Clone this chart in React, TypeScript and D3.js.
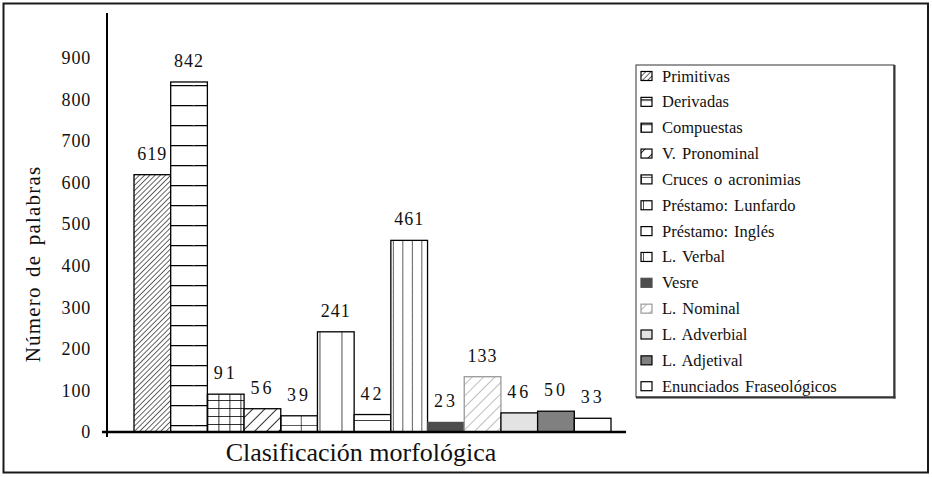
import React from "react";
import * as d3 from "d3";

const categories = [
  "Primitivas",
  "Derivadas",
  "Compuestas",
  "V. Pronominal",
  "Cruces o acronimias",
  "Préstamo: Lunfardo",
  "Préstamo: Inglés",
  "L. Verbal",
  "Vesre",
  "L. Nominal",
  "L. Adverbial",
  "L. Adjetival",
  "Enunciados Fraseológicos",
];
const values = [619, 842, 91, 56, 39, 241, 42, 461, 23, 133, 46, 50, 33];
const yTicks = [0, 100, 200, 300, 400, 500, 600, 700, 800, 900];
const yTitle = "Número de palabras";
const xTitle = "Clasificación morfológica";

const kinds = [
  "diagDense",
  "hLines",
  "grid",
  "diagSparse",
  "brick",
  "vLunf",
  "hIngles",
  "vVerbal",
  "solidDark",
  "diagGray",
  "solidLight",
  "solidMid",
  "white",
];

const SERIF = "'Liberation Serif', 'Times New Roman', serif";

function strokeFor(kind: string) {
  if (kind === "solidDark") return "#4d4d4d";
  if (kind === "diagGray") return "#9a9a9a";
  return "#000";
}

function makePattern(kind: string, id: string, x0: number, y0: number) {
  const bg = <rect x={-50} y={-50} width={200} height={200} fill="#fff" />;
  switch (kind) {
    case "diagDense":
      return (
        <pattern key={id} id={id} patternUnits="userSpaceOnUse" width={3.7} height={10} patternTransform="rotate(45)">
          {bg}
          <line x1={0} y1={-1} x2={0} y2={11} stroke="#000" strokeWidth={1.2} />
        </pattern>
      );
    case "diagSparse":
      return (
        <pattern key={id} id={id} patternUnits="userSpaceOnUse" width={8.5} height={10} patternTransform="rotate(45)">
          {bg}
          <line x1={0} y1={-1} x2={0} y2={11} stroke="#000" strokeWidth={1.6} />
        </pattern>
      );
    case "diagGray":
      return (
        <pattern key={id} id={id} patternUnits="userSpaceOnUse" width={8} height={10} patternTransform="rotate(45)">
          {bg}
          <line x1={0} y1={-1} x2={0} y2={11} stroke="#999" strokeWidth={1.3} />
        </pattern>
      );
    case "hLines":
      return (
        <pattern key={id} id={id} patternUnits="userSpaceOnUse" x={x0} y={y0 - 7} width={60} height={20}>
          {bg}
          <line x1={0} y1={0.6} x2={60} y2={0.6} stroke="#000" strokeWidth={1.3} />
          <line x1={23} y1={0} x2={23} y2={2} stroke="#999" strokeWidth={0.8} />
        </pattern>
      );
    case "grid":
      return (
        <pattern key={id} id={id} patternUnits="userSpaceOnUse" x={x0} y={y0} width={11} height={8}>
          {bg}
          <line x1={0} y1={0} x2={11} y2={0} stroke="#000" strokeWidth={1.6} />
          <line x1={0} y1={0} x2={0} y2={8} stroke="#000" strokeWidth={1.6} />
        </pattern>
      );
    case "brick":
      return (
        <pattern key={id} id={id} patternUnits="userSpaceOnUse" x={x0} y={y0 - 7} width={20} height={20}>
          {bg}
          <line x1={0} y1={0} x2={20} y2={0} stroke="#000" strokeWidth={1.3} />
          <line x1={0} y1={0} x2={0} y2={20} stroke="#000" strokeWidth={1.3} />
        </pattern>
      );
    case "vLunf":
      return (
        <pattern key={id} id={id} patternUnits="userSpaceOnUse" x={x0 + 2} y={y0} width={22} height={6}>
          {bg}
          <line x1={0} y1={0} x2={0} y2={6} stroke="#000" strokeWidth={1.4} />
        </pattern>
      );
    case "hIngles":
      return (
        <pattern key={id} id={id} patternUnits="userSpaceOnUse" x={x0} y={y0 - 12} width={60} height={20}>
          {bg}
          <line x1={0} y1={0} x2={60} y2={0} stroke="#000" strokeWidth={1.4} />
        </pattern>
      );
    case "vVerbal":
      return (
        <pattern key={id} id={id} patternUnits="userSpaceOnUse" x={x0 + 2} y={y0} width={9.5} height={6}>
          {bg}
          <line x1={0} y1={0} x2={0} y2={6} stroke="#000" strokeWidth={1.3} />
          <line x1={-1.5} y1={0} x2={1.5} y2={0} stroke="#aaa" strokeWidth={0.6} />
        </pattern>
      );
    case "solidDark":
      return (
        <pattern key={id} id={id} patternUnits="userSpaceOnUse" width={10} height={10}>
          <rect width={10} height={10} fill="#4d4d4d" />
        </pattern>
      );
    case "solidLight":
      return (
        <pattern key={id} id={id} patternUnits="userSpaceOnUse" width={10} height={10}>
          <rect width={10} height={10} fill="#e3e3e3" />
        </pattern>
      );
    case "solidMid":
      return (
        <pattern key={id} id={id} patternUnits="userSpaceOnUse" width={10} height={10}>
          <rect width={10} height={10} fill="#808080" />
        </pattern>
      );
    default:
      return (
        <pattern key={id} id={id} patternUnits="userSpaceOnUse" width={10} height={10}>
          <rect width={10} height={10} fill="#fff" />
        </pattern>
      );
  }
}

export default function App() {
  const W = 932;
  const H = 477;
  const baseline = 432;
  const axisX = 107;

  const x = d3.scaleBand<string>().domain(categories).range([134, 611]).padding(0);
  const y = d3.scaleLinear().domain([0, 1000]).range([baseline, baseline - 415.7]);

  // legend layout
  const legX = 636;
  const legY = 65;
  const legW = 258;
  const legH = 332;
  const legRow0 = 81.5;
  const legStep = 25.85;
  const swX = 641;
  const swW = 11;
  const swH = 9;

  const barPatterns = categories.map((c, i) =>
    makePattern(kinds[i], `bar-${i}`, x(c) as number, baseline)
  );
  const legPatterns = categories.map((c, i) =>
    makePattern(kinds[i], `leg-${i}`, swX, legRow0 + i * legStep - 1)
  );

  return (
    <svg
      width={W}
      height={H}
      style={{ position: "absolute", left: 0, top: 0, background: "#fff" }}
      fontFamily={SERIF}
    >
      <defs>
        {barPatterns}
        {legPatterns}
      </defs>
      <rect x={0} y={0} width={W} height={H} fill="#fff" />
      {/* outer frame */}
      <rect x={3.5} y={3.5} width={924.5} height={469} fill="none" stroke="#1a1a1a" strokeWidth={2} />

      {/* bars */}
      {categories.map((c, i) => {
        const bx = x(c) as number;
        const by = y(values[i]);
        return (
          <rect
            key={c}
            x={bx}
            y={by}
            width={x.bandwidth()}
            height={baseline - by}
            fill={`url(#bar-${i})`}
            stroke={strokeFor(kinds[i])}
            strokeWidth={1.3}
          />
        );
      })}

      {/* value labels */}
      {categories.map((c, i) => (
        <text
          key={`v-${c}`}
          x={(x(c) as number) + x.bandwidth() / 2}
          y={y(values[i]) - 15}
          textAnchor="middle"
          fontSize={18}
          letterSpacing={values[i] < 100 ? 3 : 1}
          fill="#111"
        >
          {values[i]}
        </text>
      ))}

      {/* axes */}
      <line x1={axisX} y1={13} x2={axisX} y2={baseline + 5} stroke="#000" strokeWidth={2} />
      <line x1={102} y1={baseline} x2={626} y2={baseline} stroke="#000" strokeWidth={2.5} />

      {yTicks.map((t) => (
        <text
          key={`t-${t}`}
          x={91}
          y={y(t)}
          dy="0.35em"
          textAnchor="end"
          fontSize={18}
          letterSpacing={0.8}
          fill="#111"
        >
          {t}
        </text>
      ))}

      <text
        transform={`translate(40,264) rotate(-90)`}
        textAnchor="middle"
        fontSize={21}
        letterSpacing={1.2}
        wordSpacing={3}
        fill="#111"
      >
        {yTitle}
      </text>

      <text x={361} y={461} textAnchor="middle" fontSize={26} fill="#111">
        {xTitle}
      </text>

      {/* legend */}
      <rect x={legX} y={legY} width={legW} height={legH} fill="#fff" stroke="#333" strokeWidth={1} />
      <line x1={legX + legW + 0.5} y1={legY} x2={legX + legW + 0.5} y2={legY + legH + 1.5} stroke="#333" strokeWidth={2} />
      <line x1={legX} y1={legY + legH + 0.5} x2={legX + legW + 1.5} y2={legY + legH + 0.5} stroke="#333" strokeWidth={2} />
      {categories.map((c, i) => {
        const by = legRow0 + i * legStep;
        return (
          <g key={`l-${c}`}>
            <rect
              x={swX}
              y={by - swH - 1}
              width={swW}
              height={swH}
              fill={`url(#leg-${i})`}
              stroke={strokeFor(kinds[i])}
              strokeWidth={1.2}
            />
            <text x={662} y={by} fontSize={16.5} wordSpacing={2} fill="#111">
              {c}
            </text>
          </g>
        );
      })}
    </svg>
  );
}
